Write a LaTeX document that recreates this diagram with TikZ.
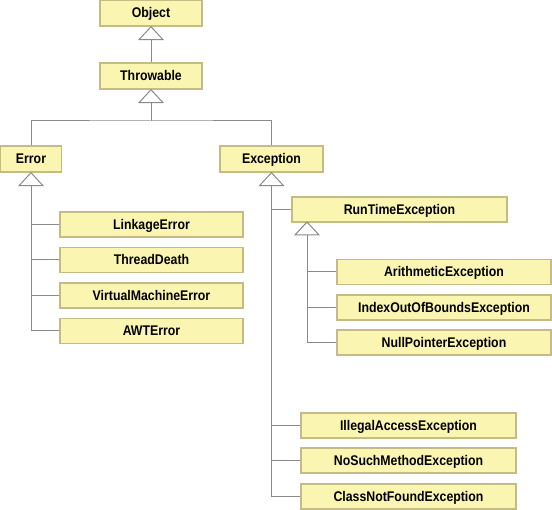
\documentclass[tikz,border=0pt]{standalone}
\usepackage{fontspec}
\setmainfont{Liberation Sans}[FakeStretch=0.88]
\definecolor{boxfill}{HTML}{FAF5B0}
\definecolor{boxdraw}{HTML}{C4BC84}
\definecolor{linegray}{HTML}{8A8A8A}
\begin{document}
\begin{tikzpicture}[x=1pt,y=-1pt,
  cls/.style={draw=boxdraw,fill=boxfill,line width=1.4pt,minimum height=25pt,inner sep=0pt,
    text height=9.5pt,text depth=0pt,
    font=\fontsize{14}{16}\selectfont\bfseries},
  conn/.style={draw=linegray,line width=1pt},
  tri/.style={draw=linegray,fill=white,line width=1pt,line join=miter}]
\useasboundingbox (0,0) rectangle (552,510);
% nodes
\node[cls,minimum width=102pt,minimum height=26pt] (obj) at (151,13) {Object};
\node[cls,minimum width=102pt,minimum height=26pt] (thr) at (151,76) {Throwable};
\node[cls,minimum width=61pt,minimum height=26pt] (err) at (31,159) {Error};
\node[cls,minimum width=103pt,minimum height=26pt] (exc) at (271.5,159) {Exception};
\node[cls,minimum width=183pt] (link) at (151.5,224.5) {LinkageError};
\node[cls,minimum width=183pt] (td) at (151.5,260) {ThreadDeath};
\node[cls,minimum width=183pt] (vme) at (151.5,295.5) {VirtualMachineError};
\node[cls,minimum width=183pt] (awt) at (151.5,331) {AWTError};
\node[cls,minimum width=215pt] (rte) at (399.5,209.5) {RunTimeException};
\node[cls,minimum width=214pt] (ari) at (444,272) {ArithmeticException};
\node[cls,minimum width=214pt] (idx) at (444,307.5) {IndexOutOfBoundsException};
\node[cls,minimum width=214pt] (npe) at (444,342.5) {NullPointerException};
\node[cls,minimum width=215pt] (ill) at (408.5,425.5) {IllegalAccessException};
\node[cls,minimum width=215pt] (nsm) at (408.5,460.5) {NoSuchMethodException};
\node[cls,minimum width=215pt] (cnf) at (408.5,496.5) {ClassNotFoundException};
% triangle bases (tips sit on the parent's bottom edge)
\coordinate (tobj) at ([yshift=-13pt]obj.south);
\coordinate (tthr) at ([yshift=-13pt]thr.south);
\coordinate (terr) at ([yshift=-13pt]err.south);
\coordinate (texc) at ([yshift=-13pt]exc.south);
\coordinate (rtetip) at (307,222);
\coordinate (trte) at (307,235);
% Object <- Throwable
\draw[conn] (tobj) -- (thr.north);
% Throwable <- Error, Exception
\coordinate (hb) at (151,121);
\draw[conn] (tthr) -- (hb);
\draw[conn] (err.north) |- (hb) -| (exc.north);
% Error children
\draw[conn] (terr) |- (awt.west);
\draw[conn] (link.west) -- (link.west -| err.south);
\draw[conn] (td.west) -- (td.west -| err.south);
\draw[conn] (vme.west) -- (vme.west -| err.south);
% Exception children
\draw[conn] (texc) |- (cnf.west);
\draw[conn] (rte.west) -- (rte.west -| exc.south);
\draw[conn] (ill.west) -- (ill.west -| exc.south);
\draw[conn] (nsm.west) -- (nsm.west -| exc.south);
% RunTimeException children
\draw[conn] (trte) |- (npe.west);
\draw[conn] (ari.west) -- (ari.west -| trte);
\draw[conn] (idx.west) -- (idx.west -| trte);
% triangles
\draw[tri] (obj.south) -- ++(-12,13) -- ++(24,0) -- cycle;
\draw[tri] (thr.south) -- ++(-12,13) -- ++(24,0) -- cycle;
\draw[tri] (err.south) -- ++(-12,13) -- ++(24,0) -- cycle;
\draw[tri] (exc.south) -- ++(-12,13) -- ++(24,0) -- cycle;
\draw[tri] (rtetip) -- ++(-12,13) -- ++(24,0) -- cycle;
\end{tikzpicture}
\end{document}
